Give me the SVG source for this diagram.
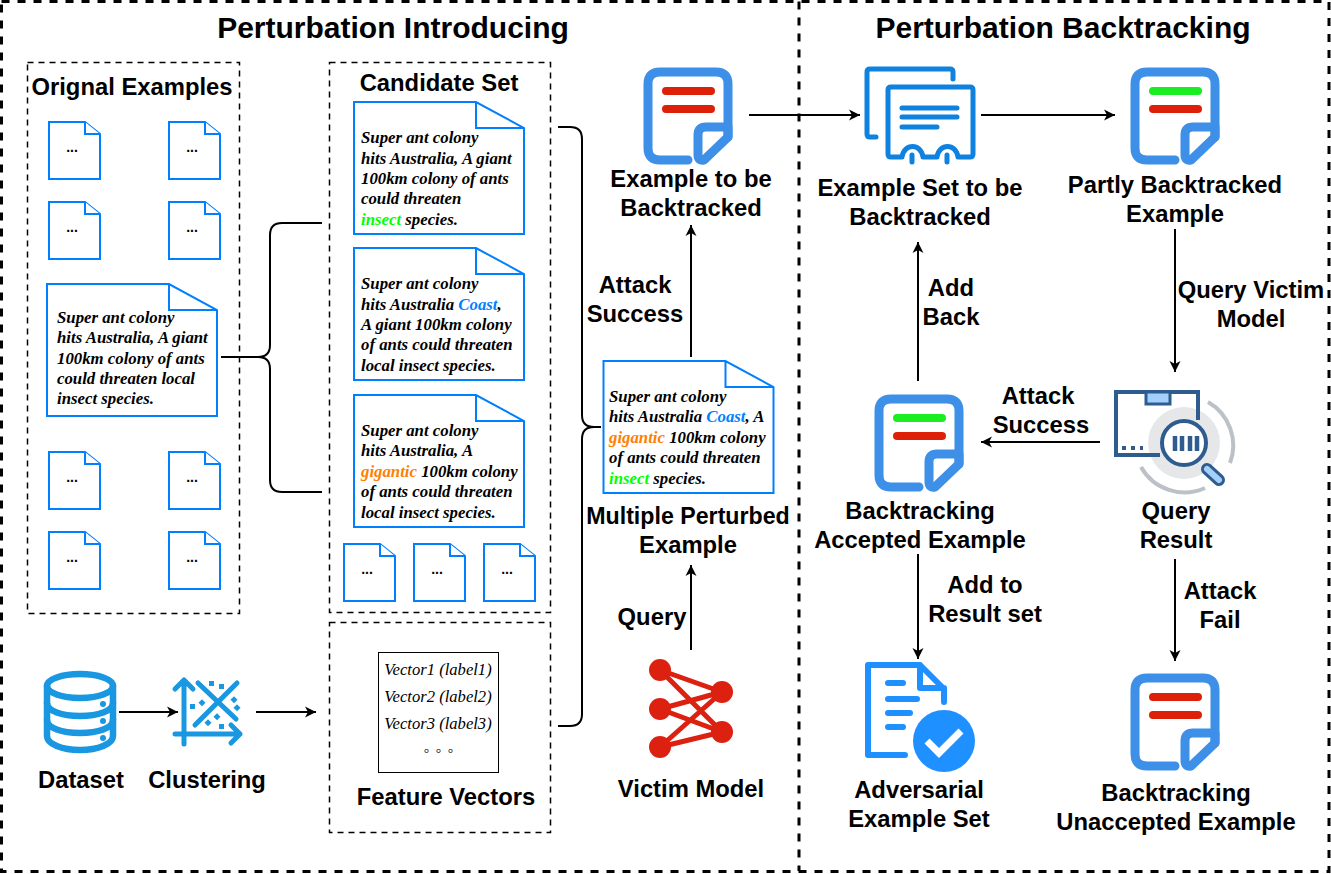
<svg xmlns="http://www.w3.org/2000/svg" xmlns:xlink="http://www.w3.org/1999/xlink" width="1331" height="874" viewBox="0 0 1331 874">
<style>
.l{font-family:"Liberation Sans",Arial,sans-serif;font-weight:bold;font-size:23.8px;fill:#000;text-anchor:middle}
.h{font-size:30px}
.t{font-family:"Liberation Serif","Times New Roman",serif;font-weight:bold;font-style:italic;font-size:16.8px;fill:#000}
.d{font-family:"Liberation Sans",Arial,sans-serif;font-weight:bold;font-size:14px;fill:#000;text-anchor:middle}
.v{font-family:"Liberation Serif","Times New Roman",serif;font-style:italic;font-size:16.6px;fill:#000;text-anchor:middle}
.doc{fill:#fff;stroke:#007fff;stroke-width:2}
.box{fill:none;stroke:#000;stroke-width:1.5;stroke-dasharray:6 5}
.frame{fill:none;stroke:#000;stroke-width:3;stroke-dasharray:8 8}
.c{fill:none;stroke:#000;stroke-width:2}
.a{fill:none;stroke:#000;stroke-width:2;marker-end:url(#arr)}
.g{fill:#00ff00}.b{fill:#007fff}.o{fill:#ff8000}
.ib{fill:none;stroke:#3d8fe8;stroke-width:9;stroke-linecap:round;stroke-linejoin:round}
.bar{stroke-width:8;stroke-linecap:round;fill:none}
.s{fill:none;stroke:#0f82e0;stroke-width:5;stroke-linecap:round;stroke-linejoin:round}
.q{stroke:#2f5c8f;stroke-width:4;fill:none}
.db{fill:none;stroke:#1997e0;stroke-width:6.5;stroke-linecap:round}
.cl{fill:none;stroke:#1997e0;stroke-width:5;stroke-linecap:round;stroke-linejoin:round}
.nn{stroke:#dc2110;stroke-width:5;fill:none}
.ad{fill:none;stroke:#1e90ff;stroke-width:6;stroke-linecap:round;stroke-linejoin:round}
</style>
<defs>
<marker id="arr" markerUnits="userSpaceOnUse" markerWidth="12" markerHeight="12" viewBox="0 0 12 12" refX="11" refY="6" orient="auto"><path d="M0,0.5 L11,6 L0,11.5 L3,6Z" fill="#000"/></marker>
<g id="smalldoc"><path class="doc" d="M0,0H36L51,12V57H0Z"/><path class="doc" d="M36,0V12H51"/><text class="d" x="23" y="30">...</text></g>
<path id="bigdoc" class="doc" d="M0,0H122L170,26V132H0ZM122,0V26H170"/>
<g id="paper"><path class="ib" d="M688,160H660Q648,160 648,148V84Q648,72 660,72H716Q728,72 728,84V137"/><path class="ib" d="M728,127H706Q698,127 698,135V155Q698,161 704,160L728,137Z"/></g>
</defs>

<g id="frames">
<rect class="frame" x="1.500" y="1.500" width="1327.500" height="870"/>
<path class="frame" d="M799,1.500V871"/>
<rect class="box" x="27.500" y="62.500" width="212" height="551"/>
<rect class="box" x="329.500" y="62.500" width="221" height="550"/>
<rect class="box" x="329.500" y="622.500" width="221" height="210"/>
<text class="l h" x="393" y="38">Perturbation Introducing</text>
<text class="l h" x="1063" y="38">Perturbation Backtracking</text>
</g>

<g id="connectors">
<path class="c" d="M221,357H258Q270,357 270,345V235Q270,223 282,223H322"/>
<path class="c" d="M258,357Q270,357 270,369V480Q270,492 282,492H322"/>
<path class="c" d="M558,127H570Q582,127 582,139V415Q582,427 594,427H601"/>
<path class="c" d="M558,726H570Q582,726 582,714V439Q582,427 594,427"/>
<path class="a" d="M119,712H178"/>
<path class="a" d="M256,712H316"/>
<path class="a" d="M749,115H860"/>
<path class="a" d="M981,115H1115"/>
<path class="a" d="M691,357V225"/>
<path class="a" d="M691,650V565"/>
<path class="a" d="M918,381V242"/>
<path class="a" d="M1175,229V372"/>
<path class="a" d="M1100,442H981"/>
<path class="a" d="M918,554V659"/>
<path class="a" d="M1175,559V661"/>
</g>

<g id="original-examples">
<text class="l" x="132" y="95">Orignal Examples</text>
<use xlink:href="#smalldoc" href="#smalldoc" x="49" y="122"/>
<use xlink:href="#smalldoc" href="#smalldoc" x="169" y="122"/>
<use xlink:href="#smalldoc" href="#smalldoc" x="49" y="202"/>
<use xlink:href="#smalldoc" href="#smalldoc" x="169" y="202"/>
<use xlink:href="#smalldoc" href="#smalldoc" x="49" y="452"/>
<use xlink:href="#smalldoc" href="#smalldoc" x="169" y="452"/>
<use xlink:href="#smalldoc" href="#smalldoc" x="49" y="532"/>
<use xlink:href="#smalldoc" href="#smalldoc" x="169" y="532"/>
<use xlink:href="#bigdoc" href="#bigdoc" x="47" y="284"/>
<text class="t" x="57"><tspan x="57" y="323">Super ant colony</tspan><tspan x="57" y="343">hits Australia, A giant</tspan><tspan x="57" y="364">100km colony of ants</tspan><tspan x="57" y="384">could threaten local</tspan><tspan x="57" y="404">insect species.</tspan></text>
</g>

<g id="candidate-set">
<text class="l" x="439" y="91">Candidate Set</text>
<use xlink:href="#bigdoc" href="#bigdoc" x="354" y="102"/>
<text class="t"><tspan x="361" y="143">Super ant colony</tspan><tspan x="361" y="164">hits Australia, A giant</tspan><tspan x="361" y="184">100km colony of ants</tspan><tspan x="361" y="204">could threaten</tspan><tspan x="361" y="225" class="g">insect</tspan><tspan> species.</tspan></text>
<use xlink:href="#bigdoc" href="#bigdoc" x="354" y="248"/>
<text class="t"><tspan x="361" y="289">Super ant colony</tspan><tspan x="361" y="310">hits Australia </tspan><tspan class="b">Coast</tspan><tspan>,</tspan><tspan x="361" y="330">A giant 100km colony</tspan><tspan x="361" y="350">of ants could threaten</tspan><tspan x="361" y="371">local insect species.</tspan></text>
<use xlink:href="#bigdoc" href="#bigdoc" x="354" y="395"/>
<text class="t"><tspan x="361" y="436">Super ant colony</tspan><tspan x="361" y="456">hits Australia, A</tspan><tspan x="361" y="477" class="o">gigantic</tspan><tspan> 100km colony</tspan><tspan x="361" y="497">of ants could threaten</tspan><tspan x="361" y="518">local insect species.</tspan></text>
<use xlink:href="#smalldoc" href="#smalldoc" x="344" y="544"/>
<use xlink:href="#smalldoc" href="#smalldoc" x="414" y="544"/>
<use xlink:href="#smalldoc" href="#smalldoc" x="484" y="544"/>
</g>

<g id="feature-vectors">
<rect x="378.500" y="652.500" width="120" height="120" fill="#fff" stroke="#000" stroke-width="1"/>
<text class="v" x="438" y="675">Vector1 (label1)</text>
<text class="v" x="438" y="702">Vector2 (label2)</text>
<text class="v" x="438" y="729">Vector3 (label3)</text>
<text class="v" x="439" y="756" style="font-style:normal;letter-spacing:1px">◦ ◦ ◦</text>
<text class="l" x="446" y="805">Feature Vectors</text>
</g>

<g id="dataset">
<ellipse class="db" cx="80" cy="686" rx="33" ry="12"/>
<path class="db" d="M47,686V736C47,744 62,750 80,750C98,750 113,744 113,736V686"/>
<path class="db" d="M47,703C47,711 62,716 80,716C98,716 113,711 113,703M47,720C47,728 62,733 80,733C98,733 113,728 113,720"/>
<circle cx="103" cy="704" r="3" fill="#1997e0"/><circle cx="103" cy="721" r="3" fill="#1997e0"/><circle cx="103" cy="738" r="3" fill="#1997e0"/>
<text class="l" x="81" y="788">Dataset</text>
</g>

<g id="clustering">
<path class="cl" d="M184,744V680M175,689L184,680L193,689M175,734H240M231,725L240,734L231,743M198,683L236,719M237,683L195,725"/>
<g fill="#1997e0"><rect x="209" y="681" width="5" height="5"/><rect x="219" y="684" width="5" height="5"/><rect x="232" y="697" width="5" height="5" transform="rotate(45 234 699)"/><rect x="235" y="705" width="5" height="5" transform="rotate(45 237 707)"/><rect x="190" y="704" width="5" height="5"/><rect x="200" y="700" width="5" height="5" transform="rotate(45 202 702)"/><rect x="215" y="714" width="5" height="5" transform="rotate(45 217 716)"/><rect x="206" y="720" width="5" height="5" transform="rotate(45 208 722)"/><rect x="219" y="724" width="5" height="5"/></g>
<text class="l" x="207" y="788">Clustering</text>
</g>

<g id="victim-model">
<path class="nn" d="M660,670L722,692M660,670L722,732M660,709L722,692M660,709L722,732M660,747L722,692M660,747L722,732"/>
<g fill="#dc2110"><circle cx="660" cy="670" r="11"/><circle cx="660" cy="709" r="11"/><circle cx="660" cy="747" r="11"/><circle cx="722" cy="692" r="11"/><circle cx="722" cy="732" r="11"/></g>
<text class="l" x="691" y="797">Victim Model</text>
<text class="l" x="652" y="625">Query</text>
</g>

<g id="multiple-perturbed">
<use xlink:href="#bigdoc" href="#bigdoc" x="603.500" y="361"/>
<text class="t"><tspan x="609" y="402">Super ant colony</tspan><tspan x="609" y="422">hits Australia </tspan><tspan class="b">Coast</tspan><tspan>, A</tspan><tspan x="609" y="443" class="o">gigantic</tspan><tspan> 100km colony</tspan><tspan x="609" y="463">of ants could threaten</tspan><tspan x="609" y="484" class="g">insect</tspan><tspan> species.</tspan></text>
<text class="l" x="688" y="524" style="font-size:23.2px">Multiple Perturbed</text>
<text class="l" x="688" y="553">Example</text>
<text class="l" x="635" y="293">Attack</text>
<text class="l" x="635" y="322">Success</text>
</g>

<g id="example-to-be-backtracked">
<use xlink:href="#paper" href="#paper"/>
<path class="bar" stroke="#dc2108" d="M666,91H711M666,109H711"/>
<text class="l" x="691" y="187">Example to be</text>
<text class="l" x="691" y="216">Backtracked</text>
</g>

<g id="example-set">
<path class="s" d="M953,79V72Q953,69 950,69H870Q867,69 867,72V134Q867,137 870,137H876"/>
<path class="s" d="M902,157H891Q888,157 888,154V90Q888,87 891,87H970Q973,87 973,90V154Q973,157 970,157H958M923,157H937M902,157C904,143 921,143 923,157M937,157C939,143 956,143 958,157M912,155V162M947,155V162"/>
<path class="s" stroke-width="4" d="M902,108H957M902,117H957M902,127H937"/>
<text class="l" x="920" y="196">Example Set to be</text>
<text class="l" x="920" y="225">Backtracked</text>
</g>

<g id="partly-backtracked">
<g transform="translate(487,0)"><use xlink:href="#paper" href="#paper"/></g>
<path class="bar" stroke="#1aee22" d="M1153,91H1198"/><path class="bar" stroke="#dc2108" d="M1153,109H1198"/>
<text class="l" x="1175" y="193">Partly Backtracked</text>
<text class="l" x="1175" y="222">Example</text>
<text class="l" x="1251" y="298">Query Victim</text>
<text class="l" x="1251" y="327">Model</text>
</g>

<g id="add-back">
<text class="l" x="951" y="296">Add</text>
<text class="l" x="951" y="325">Back</text>
</g>

<g id="query-result">
<circle cx="1184" cy="443" r="36" fill="#e6e7e9"/>
<path d="M1208,402A50,50 0 0 1 1230,463M1141,467A50,50 0 0 0 1205,488" fill="none" stroke="#bcc1c8" stroke-width="4"/>
<path class="q" d="M1198,420V392H1116V455H1160"/>
<rect x="1146" y="392" width="24" height="12" fill="#a3cffb" stroke="#2f5c8f" stroke-width="3"/>
<path d="M1122,448h4M1131,448h4M1140,448h3" stroke="#2f5c8f" stroke-width="4"/>
<circle cx="1184" cy="443" r="22" fill="#fff" stroke="#2f5c8f" stroke-width="4"/>
<path d="M1175,436V451M1182,436V451M1190,436V451M1197,436V451" stroke="#2f5c8f" stroke-width="4.500"/>
<path d="M1207,469L1219,480" stroke="#2f5c8f" stroke-width="12" stroke-linecap="round"/>
<path d="M1207,469L1219,480" stroke="#a3cffb" stroke-width="6" stroke-linecap="round"/>
<text class="l" x="1176" y="519">Query</text>
<text class="l" x="1176" y="548">Result</text>
<text class="l" x="1038" y="404">Attack</text>
<text class="l" x="1041" y="433">Success</text>
<text class="l" x="1220" y="599">Attack</text>
<text class="l" x="1220" y="628">Fail</text>
</g>

<g id="accepted-example">
<g transform="translate(231,327)"><use xlink:href="#paper" href="#paper"/></g>
<path class="bar" stroke="#1aee22" d="M897,418H942"/><path class="bar" stroke="#dc2108" d="M897,436H942"/>
<text class="l" x="920" y="519">Backtracking</text>
<text class="l" x="920" y="548">Accepted Example</text>
<text class="l" x="985" y="593">Add to</text>
<text class="l" x="985" y="622">Result set</text>
</g>

<g id="adversarial-set">
<path class="ad" d="M905,755H868V665H920L944,689V702M920,665V688H944"/>
<path class="ad" d="M888,683H903M888,699H917M888,713H910M888,727H903"/>
<circle cx="944" cy="741" r="31" fill="#1e90ff"/>
<path d="M927,741L939,753L961,731" fill="none" stroke="#fff" stroke-width="7"/>
<text class="l" x="919" y="798">Adversarial</text>
<text class="l" x="919" y="827">Example Set</text>
</g>

<g id="unaccepted-example">
<g transform="translate(487,606)"><use xlink:href="#paper" href="#paper"/></g>
<path class="bar" stroke="#dc2108" d="M1153,697H1198M1153,715H1198"/>
<text class="l" x="1176" y="801">Backtracking</text>
<text class="l" x="1176" y="830">Unaccepted Example</text>
</g>
</svg>
